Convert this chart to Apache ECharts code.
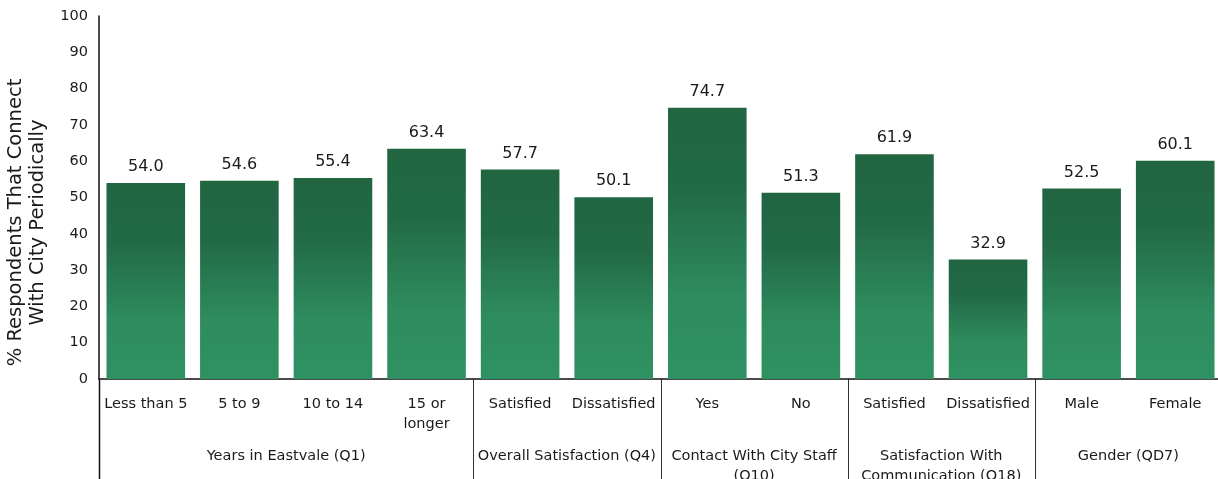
<!DOCTYPE html>
<html>
<head>
<meta charset="utf-8">
<script src="https://cdn.jsdelivr.net/npm/echarts@6/dist/echarts.min.js"></script>
<style>
  html, body { margin: 0; padding: 0; background: #fff; }
  #chart { width: 1218px; height: 479px; }
</style>
</head>
<body>
<div id="chart"></div>
<script>
// Subgroup categories along the x axis
const categories = [
  'Less than 5', '5 to 9', '10 to 14', '15 or\nlonger',
  'Satisfied', 'Dissatisfied',
  'Yes', 'No',
  'Satisfied ', 'Dissatisfied ',
  'Male', 'Female'
];
// % respondents that connect with the city periodically
const values = [54.0, 54.6, 55.4, 63.4, 57.7, 50.1, 74.7, 51.3, 61.9, 32.9, 52.5, 60.1];
// Question groups and how many categories each one spans
const groupNames = [
  'Years in Eastvale (Q1)',
  'Overall Satisfaction (Q4)',
  'Contact With City Staff\n(Q10)',
  'Satisfaction With\nCommunication (Q18)',
  'Gender (QD7)'
];
const groupSizes = [4, 2, 2, 2, 2];
const yAxisTitle = '% Respondents That Connect\nWith City Periodically';

const FONT = 'DejaVu Sans';
const TEXT = '#1a1a1a';

const chart = echarts.init(document.getElementById('chart'), null, { renderer: 'canvas' });

const barFill = new echarts.graphic.LinearGradient(0, 0, 0, 1, [
  { offset: 0, color: '#216541' },
  { offset: 0.3, color: '#226a46' },
  { offset: 0.7, color: '#2e8c5e' },
  { offset: 1, color: '#2f9162' }
]);

chart.setOption({
  animation: false,
  backgroundColor: '#fff',
  grid: {
    left: 99, top: 16, width: 1123, height: 363,
    containLabel: false, outerBoundsMode: 'none'
  },
  xAxis: {
    type: 'category',
    data: categories,
    axisLine: { show: true, lineStyle: { color: '#111', width: 1.5 } },
    axisTick: { show: false },
    axisLabel: {
      interval: 0, margin: 15, color: TEXT,
      fontFamily: FONT, fontSize: 14.5, lineHeight: 20,
      formatter: v => v.trim()
    }
  },
  yAxis: {
    type: 'value', min: 0, max: 100, interval: 10,
    name: yAxisTitle,
    nameLocation: 'middle', nameRotate: 90, nameGap: 49,
    nameTextStyle: {
      color: TEXT, fontFamily: FONT, fontSize: 19.5, lineHeight: 22,
      // title sits a little below the axis midpoint
      padding: [0, 50, 0, 0]
    },
    axisLine: { show: true, lineStyle: { color: '#111', width: 1.5 } },
    axisTick: { show: false },
    splitLine: { show: false },
    axisLabel: { color: TEXT, fontFamily: FONT, fontSize: 14.5, margin: 11 }
  },
  series: [{
    type: 'bar',
    data: values,
    barCategoryGap: '16%',
    itemStyle: { color: barFill },
    label: {
      show: true, position: 'top', distance: 8,
      color: TEXT, fontFamily: FONT, fontSize: 16,
      formatter: p => p.value.toFixed(1)
    }
  }]
});

// Group separators and group titles placed with the category axis scale
function drawGroups() {
  const c0 = chart.convertToPixel({ xAxisIndex: 0 }, 0);
  const c1 = chart.convertToPixel({ xAxisIndex: 0 }, 1);
  const band = c1 - c0;
  const y0 = chart.convertToPixel({ yAxisIndex: 0 }, 0);
  const H = chart.getHeight();
  const elements = [];
  let start = 0;
  groupSizes.forEach((size, g) => {
    const left = c0 + (start - 0.5) * band;
    const right = c0 + (start + size - 0.5) * band;
    elements.push({
      type: 'line', silent: true,
      shape: { x1: Math.round(left) + 0.5, y1: y0, x2: Math.round(left) + 0.5, y2: H },
      style: { stroke: g === 0 ? '#111' : '#333', lineWidth: g === 0 ? 1.5 : 1 }
    });
    elements.push({
      type: 'text', silent: true,
      x: (left + right) / 2, y: y0 + 67,
      style: {
        text: groupNames[g], fill: TEXT,
        font: '14.5px "' + FONT + '"', lineHeight: 20,
        align: 'center', verticalAlign: 'top'
      }
    });
    start += size;
  });
  chart.setOption({ graphic: elements });
}
drawGroups();
</script>
</body>
</html>
